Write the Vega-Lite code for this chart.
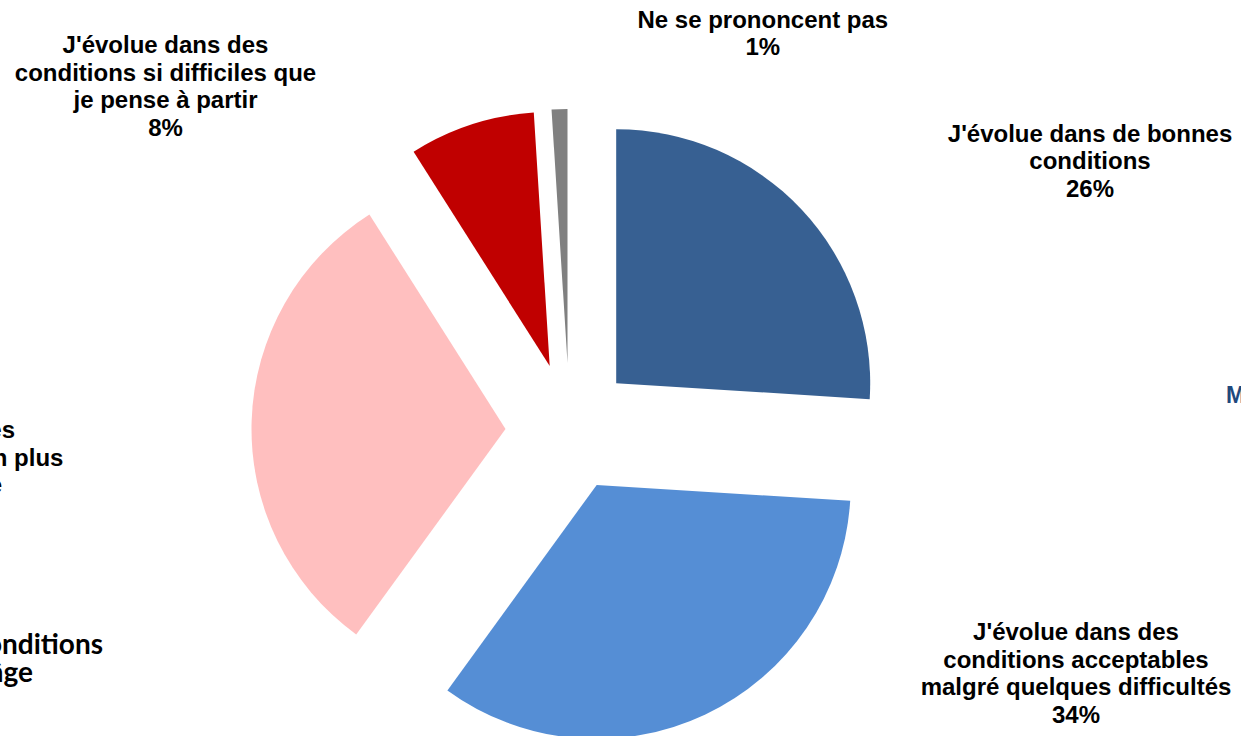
{
  "$schema": "https://vega.github.io/schema/vega-lite/v6.json",
  "autosize": {"type": "none"},
  "width": 1139,
  "height": 618,
  "padding": {"left": 0, "top": 118, "right": 102, "bottom": 0},
  "background": "white",
  "config": {"view": {"stroke": null}},
  "datasets": {
    "slices": [
      {"category": "J'évolue dans de bonnes conditions", "value": 26, "order": 1, "label": "J'évolue dans de bonnes\nconditions\n26%"},
      {"category": "J'évolue dans des conditions acceptables malgré quelques difficultés", "value": 34, "order": 2, "label": "J'évolue dans des\nconditions acceptables\nmalgré quelques difficultés\n34%"},
      {"category": "J'évolue dans des conditions de plus en plus difficiles à vivre", "value": 31, "order": 3, "label": "J'évolue dans des\nconditions de plus en plus\ndifficiles à vivre\n31%"},
      {"category": "J'évolue dans des conditions si difficiles que je pense à partir", "value": 8, "order": 4, "label": "J'évolue dans des\nconditions si difficiles que\nje pense à partir\n8%"},
      {"category": "Ne se prononcent pas", "value": 1, "order": 5, "label": "Ne se prononcent pas\n1%"}
    ],
    "notes": [
      {"id": "a", "note": "conditions"},
      {"id": "b", "note": "selon l'âge"},
      {"id": "c", "note": "M"}
    ]
  },
  "data": {"name": "slices"},
  "layer": [
    {
      "transform": [
        {"stack": "value", "groupby": [], "sort": [{"field": "order", "order": "ascending"}], "as": ["v0", "v1"]},
        {"filter": "datum.order == 1"}
      ],
      "mark": {"type": "arc", "outerRadius": 254, "xOffset": 46.7, "yOffset": -43.8},
      "encoding": {
        "theta": {"field": "v0", "type": "quantitative", "scale": {"domain": [0, 100]}},
        "theta2": {"field": "v1"},
        "color": {"field": "order", "type": "nominal", "scale": {"domain": [1, 2, 3, 4, 5], "range": ["#376092", "#558ED5", "#FFBFBF", "#C00000", "#808080"]}, "legend": null}
      }
    },
    {
      "transform": [
        {"stack": "value", "groupby": [], "sort": [{"field": "order", "order": "ascending"}], "as": ["v0", "v1"]},
        {"filter": "datum.order == 2"}
      ],
      "mark": {"type": "arc", "outerRadius": 254, "xOffset": 27.2, "yOffset": 57.9},
      "encoding": {
        "theta": {"field": "v0", "type": "quantitative", "scale": {"domain": [0, 100]}},
        "theta2": {"field": "v1"},
        "color": {"field": "order", "type": "nominal", "scale": {"domain": [1, 2, 3, 4, 5], "range": ["#376092", "#558ED5", "#FFBFBF", "#C00000", "#808080"]}, "legend": null}
      }
    },
    {
      "transform": [
        {"stack": "value", "groupby": [], "sort": [{"field": "order", "order": "ascending"}], "as": ["v0", "v1"]},
        {"filter": "datum.order == 3"}
      ],
      "mark": {"type": "arc", "outerRadius": 254, "xOffset": -64.0, "yOffset": 2.0},
      "encoding": {
        "theta": {"field": "v0", "type": "quantitative", "scale": {"domain": [0, 100]}},
        "theta2": {"field": "v1"},
        "color": {"field": "order", "type": "nominal", "scale": {"domain": [1, 2, 3, 4, 5], "range": ["#376092", "#558ED5", "#FFBFBF", "#C00000", "#808080"]}, "legend": null}
      }
    },
    {
      "transform": [
        {"stack": "value", "groupby": [], "sort": [{"field": "order", "order": "ascending"}], "as": ["v0", "v1"]},
        {"filter": "datum.order == 4"}
      ],
      "mark": {"type": "arc", "outerRadius": 254, "xOffset": -19.8, "yOffset": -60.9},
      "encoding": {
        "theta": {"field": "v0", "type": "quantitative", "scale": {"domain": [0, 100]}},
        "theta2": {"field": "v1"},
        "color": {"field": "order", "type": "nominal", "scale": {"domain": [1, 2, 3, 4, 5], "range": ["#376092", "#558ED5", "#FFBFBF", "#C00000", "#808080"]}, "legend": null}
      }
    },
    {
      "transform": [
        {"stack": "value", "groupby": [], "sort": [{"field": "order", "order": "ascending"}], "as": ["v0", "v1"]},
        {"filter": "datum.order == 5"}
      ],
      "mark": {"type": "arc", "outerRadius": 254, "xOffset": -2.0, "yOffset": -64.0},
      "encoding": {
        "theta": {"field": "v0", "type": "quantitative", "scale": {"domain": [0, 100]}},
        "theta2": {"field": "v1"},
        "color": {"field": "order", "type": "nominal", "scale": {"domain": [1, 2, 3, 4, 5], "range": ["#376092", "#558ED5", "#FFBFBF", "#C00000", "#808080"]}, "legend": null}
      }
    },
    {
      "transform": [{"filter": "datum.order == 1"}],
      "mark": {"type": "text", "dx": 520.5, "dy": -285.3, "align": "center", "baseline": "alphabetic", "lineBreak": "\n", "lineHeight": 27.5, "font": "Liberation Sans", "fontSize": 24, "fontWeight": "bold", "color": "#000000"},
      "encoding": {"text": {"field": "label", "type": "nominal"}}
    },
    {
      "transform": [{"filter": "datum.order == 2"}],
      "mark": {"type": "text", "dx": 506.5, "dy": 213, "align": "center", "baseline": "alphabetic", "lineBreak": "\n", "lineHeight": 27.5, "font": "Liberation Sans", "fontSize": 24, "fontWeight": "bold", "color": "#000000"},
      "encoding": {"text": {"field": "label", "type": "nominal"}}
    },
    {
      "transform": [{"filter": "datum.order == 3"}],
      "mark": {"type": "text", "dx": -657.4, "dy": 11.3, "align": "center", "baseline": "alphabetic", "lineBreak": "\n", "lineHeight": 27.5, "font": "Liberation Sans", "fontSize": 24, "fontWeight": "bold", "color": "#000000"},
      "encoding": {"text": {"field": "label", "type": "nominal"}}
    },
    {
      "transform": [{"filter": "datum.order == 4"}],
      "mark": {"type": "text", "dx": -404, "dy": -373.7, "align": "center", "baseline": "alphabetic", "lineBreak": "\n", "lineHeight": 27.5, "font": "Liberation Sans", "fontSize": 24, "fontWeight": "bold", "color": "#000000"},
      "encoding": {"text": {"field": "label", "type": "nominal"}}
    },
    {
      "transform": [{"filter": "datum.order == 5"}],
      "mark": {"type": "text", "dx": 193.3, "dy": -399.3, "align": "center", "baseline": "alphabetic", "lineBreak": "\n", "lineHeight": 27.5, "font": "Liberation Sans", "fontSize": 24, "fontWeight": "bold", "color": "#000000"},
      "encoding": {"text": {"field": "label", "type": "nominal"}}
    },
    {
      "data": {"name": "notes"},
      "transform": [{"filter": "datum.id == 'a'"}],
      "mark": {"type": "text", "dx": -466.5, "dy": 227, "align": "right", "baseline": "alphabetic", "font": "Lato", "fontSize": 28, "fontWeight": "bold", "color": "#000000"},
      "encoding": {"text": {"field": "note", "type": "nominal"}}
    },
    {
      "data": {"name": "notes"},
      "transform": [{"filter": "datum.id == 'b'"}],
      "mark": {"type": "text", "dx": -536.5, "dy": 254.7, "align": "right", "baseline": "alphabetic", "font": "Lato", "fontSize": 28, "fontWeight": "bold", "color": "#000000"},
      "encoding": {"text": {"field": "note", "type": "nominal"}}
    },
    {
      "data": {"name": "notes"},
      "transform": [{"filter": "datum.id == 'c'"}],
      "mark": {"type": "text", "dx": 656.5, "dy": -24, "align": "left", "baseline": "alphabetic", "font": "Liberation Sans", "fontSize": 23, "fontWeight": "bold", "color": "#1F497D"},
      "encoding": {"text": {"field": "note", "type": "nominal"}}
    }
  ]
}
